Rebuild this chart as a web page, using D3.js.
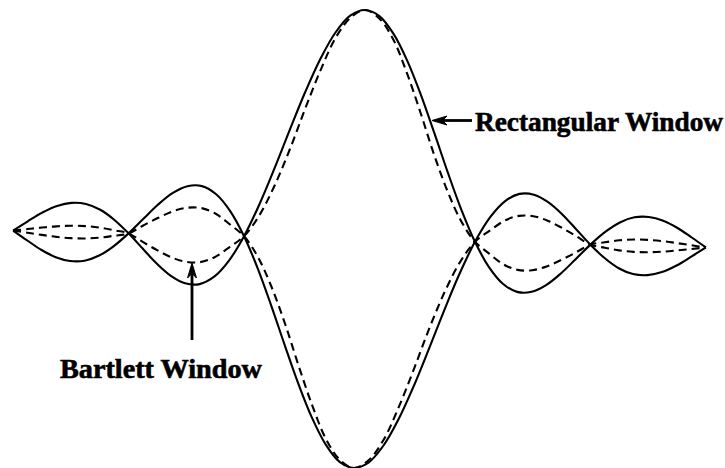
<!DOCTYPE html>
<html>
<head>
<meta charset="utf-8">
<script src="https://cdn.jsdelivr.net/npm/d3@7"></script>
<style>
  html, body { margin: 0; padding: 0; background: #fff; }
  svg { display: block; }
</style>
</head>
<body>
<svg id="chart" width="725" height="468"></svg>
<script>
// Normalised frequency (units of the first zero crossing)
const freq = [
  -3, -2.875, -2.75, -2.625, -2.5, -2.375, -2.25, -2.125,
  -2, -1.875, -1.75, -1.625, -1.5, -1.375, -1.25, -1.125,
  -1, -0.875, -0.75, -0.625, -0.5, -0.375, -0.25, -0.125,
  0,
  0.125, 0.25, 0.375, 0.5, 0.625, 0.75, 0.875, 1,
  1.125, 1.25, 1.375, 1.5, 1.625, 1.75, 1.875, 2,
  2.125, 2.25, 2.375, 2.5, 2.625, 2.75, 2.875, 3
];

// Window spectra (normalised, signed)
const rectangular = [
  0, 0.042, 0.082, 0.112, 0.127, 0.124, 0.100, 0.057,
  0, -0.065, -0.129, -0.181, -0.212, -0.214, -0.180, -0.108,
  0, 0.139, 0.300, 0.471, 0.637, 0.784, 0.900, 0.975,
  1,
  0.975, 0.900, 0.784, 0.637, 0.471, 0.300, 0.139, 0,
  -0.108, -0.180, -0.214, -0.212, -0.181, -0.129, -0.065, 0,
  0.057, 0.100, 0.124, 0.127, 0.112, 0.082, 0.042, 0
];

const bartlett = [
  0, 0.008, 0.016, 0.023, 0.027, 0.027, 0.022, 0.012,
  0, -0.036, -0.070, -0.100, -0.118, -0.118, -0.095, -0.050,
  0, 0.090, 0.220, 0.380, 0.560, 0.730, 0.875, 0.965,
  1,
  0.965, 0.875, 0.730, 0.560, 0.380, 0.220, 0.090, 0,
  -0.050, -0.095, -0.118, -0.118, -0.100, -0.070, -0.036, 0,
  0.012, 0.022, 0.027, 0.027, 0.023, 0.016, 0.008, 0
];

const labels = ["Rectangular Window", "Bartlett Window"];

const svg = d3.select("#chart");
svg.append("rect").attr("width", 725).attr("height", 468).attr("fill", "#fff");

const x = d3.scaleLinear().domain([-3, 3]).range([13, 706]);
const y = d3.scaleLinear().domain([-1, 1]).range([468, 10]);

// the whole trace sits slightly tilted on the page
const tilt = 1.4;
const cx = x(0), cy = y(0);
const plot = svg.append("g").attr("transform", `rotate(${tilt},${cx},${cy})`);

function pts(values, sign) {
  return freq.map((f, i) => [f, sign * values[i]]);
}

const line = d3.line()
  .x(d => x(d[0]))
  .y(d => y(d[1]))
  .curve(d3.curveCatmullRom.alpha(0.5));

const series = [
  { values: rectangular, dash: null },
  { values: bartlett, dash: "8,5" }
];

series.forEach(s => {
  [1, -1].forEach(sign => {
    plot.append("path")
      .attr("d", line(pts(s.values, sign)))
      .attr("fill", "none")
      .attr("stroke", "#000")
      .attr("stroke-width", 2.1)
      .attr("stroke-linejoin", "round")
      .attr("stroke-dasharray", s.dash);
  });
});

// ---- annotations ----
const ann = svg.append("g");

// arrow head helper: tip at (tx,ty), pointing along angle (radians)
function arrowHead(tx, ty, ang, len, half) {
  const bx = tx - Math.cos(ang) * len, by = ty - Math.sin(ang) * len;
  const nx = -Math.sin(ang) * half, ny = Math.cos(ang) * half;
  const mx = tx - Math.cos(ang) * len * 0.7, my = ty - Math.sin(ang) * len * 0.7;
  ann.append("path")
    .attr("d", `M${tx},${ty} L${bx + nx},${by + ny} L${mx},${my} L${bx - nx},${by - ny} Z`)
    .attr("fill", "#000").attr("stroke", "#000").attr("stroke-width", 1)
    .attr("stroke-linejoin", "round");
}

const labelFont = "'Liberation Serif', 'DejaVu Serif', serif";

// Rectangular window pointer
ann.append("line")
  .attr("x1", 440).attr("y1", 120.5).attr("x2", 472).attr("y2", 120.5)
  .attr("stroke", "#000").attr("stroke-width", 2.8);
arrowHead(432, 120.5, Math.PI, 15, 4.5);

ann.append("text")
  .attr("x", 475).attr("y", 131)
  .attr("font-family", labelFont)
  .attr("font-weight", "bold")
  .attr("font-size", 27)
  .attr("stroke", "#000").attr("stroke-width", 0.6)
  .attr("textLength", 248)
  .attr("lengthAdjust", "spacingAndGlyphs")
  .text(labels[0]);

// Bartlett window pointer
ann.append("line")
  .attr("x1", 192).attr("y1", 340).attr("x2", 192).attr("y2", 272)
  .attr("stroke", "#000").attr("stroke-width", 2.8);
arrowHead(192, 263, -Math.PI / 2, 15, 4.5);

ann.append("text")
  .attr("x", 60).attr("y", 378)
  .attr("font-family", labelFont)
  .attr("font-weight", "bold")
  .attr("font-size", 27)
  .attr("stroke", "#000").attr("stroke-width", 0.6)
  .attr("textLength", 202)
  .attr("lengthAdjust", "spacingAndGlyphs")
  .text(labels[1]);
</script>
</body>
</html>
